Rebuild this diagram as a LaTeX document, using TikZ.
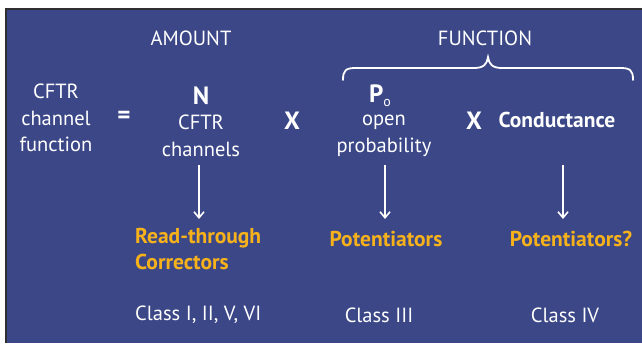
\documentclass[tikz,border=0pt]{standalone}
\usepackage{fontspec}
\setmainfont{PT Sans}
\usetikzlibrary{arrows.meta}
\definecolor{bgblue}{HTML}{3B4787}
\definecolor{gold}{HTML}{F7B21B}
\definecolor{edge}{HTML}{2E2E33}
\begin{document}
\begin{tikzpicture}[x=1pt,y=-1pt,
  txt/.style={text=white,font=\fontsize{20.5}{26.5}\selectfont,inner sep=0pt,align=center},
  bld/.style={txt,font=\fontsize{21.5}{26}\selectfont\bfseries},
  big/.style={text=white,font=\fontsize{25}{28}\selectfont\bfseries,inner sep=0pt},
  drug/.style={text=gold,font=\fontsize{21.5}{26}\selectfont\bfseries,inner sep=0pt,align=left},
  arr/.style={draw=white,line width=1.6pt,-{Straight Barb[length=6pt,width=10pt,line width=1.6pt]}}]
\useasboundingbox (0,0) rectangle (642,343);
\fill[white] (0,0) rectangle (642,343);
\fill[bgblue] (6,9) rectangle (642,343);
\draw[edge,line width=1.5pt] (6,343) -- (6,9) -- (642,9);
% headers
\node[txt] (amount) at (191,38) {AMOUNT};
\node[txt] (function) at (485,38) {FUNCTION};
% brace
\draw[white,line width=1.8pt,line cap=round] (343,80) .. controls (343,70) and (346,68) .. (356,68) -- (474,68) .. controls (484,68) and (487,64) .. (488,57) .. controls (489,64) and (492,68) .. (502,68) -- (620,68) .. controls (630,68) and (633,70) .. (633,80);
% equation row
\node[txt] (cftr) at (56,118) {CFTR\\channel\\function};
\node[big] (eq) at (124,117) {=};
\node[big] (N) at (201,96) {N};
\node[txt] (chan) at (201,136) {CFTR\\channels};
\node[big] (x1) at (292,121) {X};
\node[big] (Po) at (380,96) {P\raisebox{-0.35ex}{\fontsize{14}{14}\selectfont\mdseries o}};
\node[txt] (open) at (384,136) {open\\probability};
\node[big] (x2) at (474,121) {X};
\node[bld] (cond) at (557,120) {Conductance};
% arrows
\coordinate (a1s) at (199,165); \coordinate (a1e) at (199,219);
\coordinate (a2s) at (385,165); \coordinate (a2e) at (385,219);
\coordinate (a3s) at (563,165); \coordinate (a3e) at (563,219);
\draw[arr] (a1s) -- (a1e);
\draw[arr] (a2s) -- (a2e);
\draw[arr] (a3s) -- (a3e);
% drugs
\node[drug,anchor=north west] (rt) at (135,228) {Read-through\\Correctors};
\node[drug] (pot) at (386,239) {Potentiators};
\node[drug] (pot2) at (571,239) {Potentiators?};
% classes
\node[txt,anchor=west] (c1) at (135,315) {Class I, II, V, VI};
\node[txt] (c3) at (379,315) {Class III};
\node[txt] (c4) at (565,315) {Class IV};
\end{tikzpicture}
\end{document}
